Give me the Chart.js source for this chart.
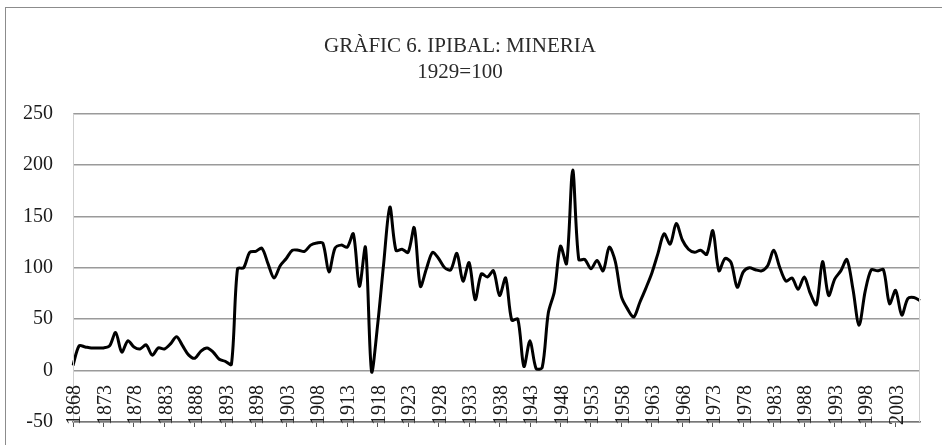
<!DOCTYPE html>
<html>
<head>
<meta charset="utf-8">
<script src="https://cdn.jsdelivr.net/npm/chart.js@4/dist/chart.umd.min.js"></script>
<style>
    html, body { margin: 0; padding: 0; background: #fff; }
    #wrap { position: relative; width: 942px; height: 445px; }
</style>
</head>
<body>
<div id="wrap"><canvas id="mineria" width="942" height="445"></canvas></div>
<script>
"use strict";

var titleLines = ["GRÀFIC 6. IPIBAL: MINERIA", "1929=100"];
var firstYear = 1868;
var labelStep = 5;
var yTicks = [-50, 0, 50, 100, 150, 200, 250];

// index 1929=100, one value per year 1868-2007
var mineria = [
    5, 24, 23, 22, 22, 22, 24, 37, 18, 29,
    23, 21, 25, 15, 22, 21, 26, 33, 24, 15,
    12, 19, 22, 18, 11, 9, 6, 99, 100, 115,
    116, 119, 104, 90, 102, 109, 117, 117, 116, 122,
    124, 124, 96, 119, 122, 120, 133, 82, 120, -1,
    45, 105, 159, 117, 118, 115, 139, 82, 99, 115,
    109, 100, 98, 114, 87, 105, 69, 94, 91, 97,
    73, 90, 49, 50, 4, 29, 2, 3, 56, 77,
    121, 104, 195, 108, 108, 99, 107, 97, 120, 106,
    72, 60, 52, 66, 80, 95, 114, 133, 123, 143,
    127, 118, 115, 117, 113, 136, 97, 109, 105, 81,
    96, 100, 98, 97, 102, 117, 100, 87, 90, 79,
    91, 75, 64, 106, 73, 89, 97, 108, 79, 44,
    77, 98, 97, 98, 65, 78, 54, 70, 71, 68
];

var years = [];
for (var i = 0; i < mineria.length; i++) years.push(String(firstYear + i));

var serif = "'Liberation Serif', 'Times New Roman', serif";

// frame, plot border and the rotated year labels sitting above the -50 line
var excelLook = {
    id: "excelLook",
    beforeDraw: function(chart) {
        var ctx = chart.ctx;
        ctx.save();
        ctx.strokeStyle = "#8c8c8c";
        ctx.lineWidth = 1;
        ctx.strokeRect(5.5, 7.5, 960, 460);
        ctx.restore();
    },
    afterDraw: function(chart) {
        var ctx = chart.ctx, a = chart.chartArea, xs = chart.scales.x;
        ctx.save();
        ctx.strokeStyle = "#cfcfcf";
        ctx.lineWidth = 1;
        ctx.beginPath();
        ctx.moveTo(Math.round(a.left) + .5, a.top);
        ctx.lineTo(Math.round(a.left) + .5, a.bottom);
        ctx.moveTo(Math.round(a.right) - .5, a.top);
        ctx.lineTo(Math.round(a.right) - .5, a.bottom);
        ctx.stroke();

        ctx.fillStyle = "#1a1a1a";
        ctx.font = "20px " + serif;
        ctx.textAlign = "left";
        ctx.textBaseline = "middle";
        for (var k = 0; k < years.length; k += labelStep) {
            var x = xs.getPixelForValue(k);
            ctx.save();
            ctx.translate(x + 2, a.bottom + 3);
            ctx.rotate(-Math.PI / 2);
            ctx.fillText(years[k], 0, 0);
            ctx.restore();
        }
        ctx.restore();
    }
};

var chart = new Chart(document.getElementById("mineria").getContext("2d"), {
    type: "line",
    data: {
        labels: years,
        datasets: [{
            label: "Mineria",
            data: mineria,
            borderColor: "#000",
            backgroundColor: "transparent",
            borderWidth: 3,
            tension: .3,
            pointRadius: 0,
            fill: false
        }]
    },
    options: {
        responsive: false,
        animation: false,
        layout: {
            padding: { left: 0, right: 22, top: 0, bottom: 23 }
        },
        plugins: {
            legend: { display: false },
            tooltip: { enabled: false },
            title: {
                display: true,
                text: titleLines,
                color: "#2a2a2a",
                font: { family: serif, size: 21, weight: "normal", lineHeight: 1.25 },
                padding: { top: 33, bottom: 28 }
            }
        },
        scales: {
            x: {
                ticks: { display: false, autoSkip: false },
                grid: {
                    drawOnChartArea: false,
                    drawTicks: true,
                    tickLength: 5,
                    color: function(c) {
                        return c.index % labelStep === 0 ? "#555" : "transparent";
                    }
                },
                border: { display: true, color: "#777", width: 1.5 },
                afterFit: function(s) { s.height = 0; }
            },
            y: {
                min: yTicks[0],
                max: yTicks[yTicks.length - 1],
                afterBuildTicks: function(s) {
                    s.ticks = yTicks.map(function(v) { return { value: v }; });
                },
                ticks: {
                    color: "#1a1a1a",
                    padding: 20,
                    font: { family: serif, size: 20 }
                },
                grid: { color: "#9a9a9a", lineWidth: 1.5, drawTicks: false },
                border: { display: false },
                afterFit: function(s) {
                    s.width = 73;
                    s.paddingTop = 0;
                    s.paddingBottom = 0;
                }
            }
        }
    },
    plugins: [excelLook]
});
</script>
</body>
</html>
